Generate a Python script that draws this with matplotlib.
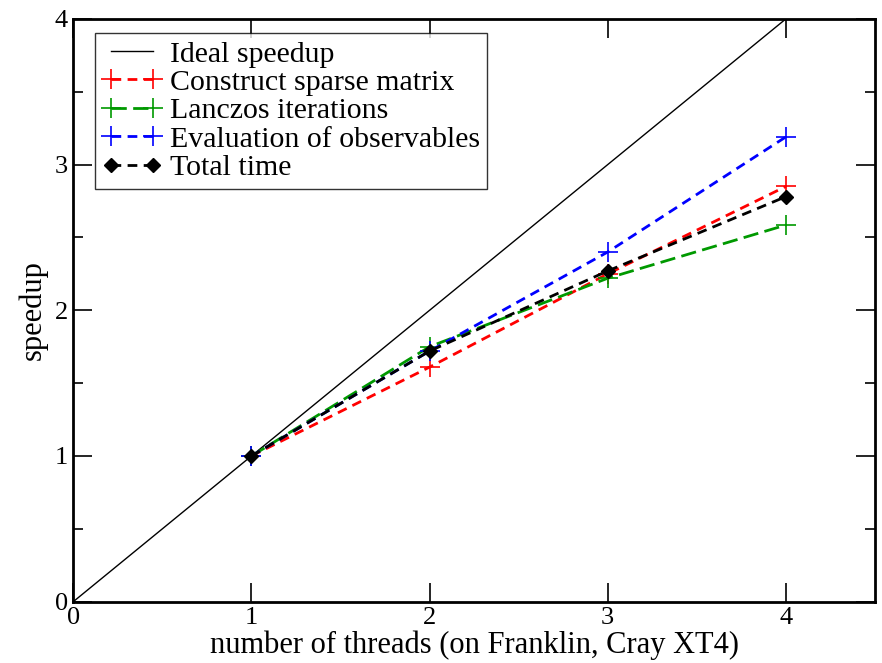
import matplotlib.pyplot as plt
import numpy as np

plt.rcParams['font.family'] = ['Liberation Serif', 'DejaVu Serif']

# Datos
threads = [1, 2, 3, 4]
ideal_x = [0, 4]
ideal_y = [0, 4]
construct = [1.0, 1.61, 2.25, 2.85]
lanczos = [1.0, 1.75, 2.22, 2.585]
observables = [1.0, 1.72, 2.40, 3.19]
total = [1.0, 1.72, 2.27, 2.78]

fig = plt.figure(figsize=(8.82, 6.63), dpi=100)
ax = fig.add_axes([0.0831, 0.0925, 0.9089, 0.879])

ax.plot(ideal_x, ideal_y, color='black', lw=1.0, label='Ideal speedup')
ax.plot(threads, construct, color='red', lw=2, dashes=(3.5, 2.3), marker='+',
        ms=14, mew=1.2, label='Construct sparse matrix')
ax.plot(threads, lanczos, color='#009900', lw=2, dashes=(5.5, 2.3), marker='+',
        ms=14, mew=1.2, label='Lanczos iterations')
ax.plot(threads, observables, color='blue', lw=2, dashes=(3.5, 2.3), marker='+',
        ms=14, mew=1.2, label='Evaluation of observables')
ax.plot(threads, total, color='black', lw=2, dashes=(3.5, 2.3), marker='D',
        ms=7, label='Total time')

ax.set_xlim(0, 4.5)
ax.set_ylim(0, 4)
ax.set_xticks([0, 1, 2, 3, 4])
ax.set_yticks([0, 1, 2, 3, 4])
ax.set_yticks(np.arange(0.5, 4, 1), minor=True)
ax.tick_params(which='both', direction='in', top=True, right=True,
               labelsize=19, width=1.2)
ax.tick_params(which='major', length=14, pad=4)
ax.tick_params(which='minor', length=7)
for s in ax.spines.values():
    s.set_linewidth(2)

ax.set_xlabel('number of threads (on Franklin, Cray XT4)', fontsize=22, labelpad=1)
ax.set_ylabel('speedup', fontsize=22, labelpad=5)

leg = ax.legend(loc='upper left', bbox_to_anchor=(0.027, 0.9755), fontsize=21.5,
                frameon=True, fancybox=False, edgecolor='black', numpoints=2,
                handlelength=2.0, handletextpad=0.25, labelspacing=0.05,
                borderpad=0.25, borderaxespad=0)
leg.get_frame().set_linewidth(1.0)

plt.savefig('out.png', dpi=100)
plt.close()
